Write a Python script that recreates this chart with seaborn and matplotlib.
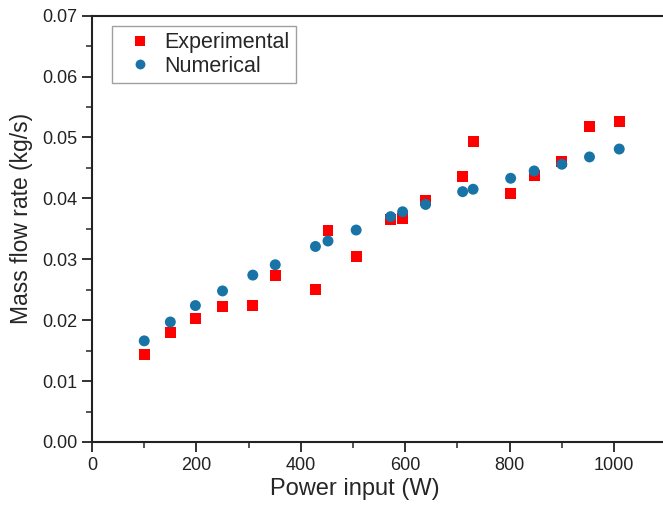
import matplotlib
matplotlib.use("Agg")
import matplotlib.pyplot as plt
import seaborn as sns
import pandas as pd
from matplotlib.ticker import MultipleLocator

power = [100, 150, 198, 250, 308, 351, 428, 452, 506, 572, 595, 639, 710, 730, 802, 847, 900, 953, 1010]
experimental = [0.0144, 0.0179, 0.0202, 0.0222, 0.0224, 0.0273, 0.0251, 0.0348, 0.0305, 0.0366, 0.0367,
                0.0397, 0.0436, 0.0493, 0.0408, 0.0438, 0.0461, 0.0518, 0.0526]
numerical = [0.0166, 0.0197, 0.0224, 0.0248, 0.0274, 0.0291, 0.0321, 0.0330, 0.0348, 0.0370, 0.0378,
             0.0390, 0.0411, 0.0415, 0.0433, 0.0445, 0.0456, 0.0468, 0.0481]
series_names = ["Experimental", "Numerical"]
x_ticks = [0, 200, 400, 600, 800, 1000]
y_ticks = [0.00, 0.01, 0.02, 0.03, 0.04, 0.05, 0.06, 0.07]

df = pd.DataFrame({
    "Power": power * 2,
    "Rate": experimental + numerical,
    "Series": [series_names[0]] * len(power) + [series_names[1]] * len(power),
})

sns.set_style("ticks")
plt.rcParams["font.family"] = ["Liberation Sans", "DejaVu Sans"]

fig = plt.figure(figsize=(6.63, 5.05), dpi=100)
ax = fig.add_axes([0.1388, 0.1248, 0.8700, 0.8442])

sns.scatterplot(data=df, x="Power", y="Rate", hue="Series", style="Series",
                palette={"Experimental": "#FF0000", "Numerical": "#1874A6"},
                markers={"Experimental": "s", "Numerical": "o"},
                s=62, linewidth=0, ax=ax, legend=True, zorder=3)

ax.set_xlim(0, 1105)
ax.set_ylim(0, 0.07)
ax.set_xticks(x_ticks)
ax.set_yticks(y_ticks)
ax.set_yticklabels([f"{v:.2f}" for v in y_ticks])
ax.xaxis.set_minor_locator(MultipleLocator(100))
ax.yaxis.set_minor_locator(MultipleLocator(0.005))
ax.tick_params(which="major", direction="out", length=7, width=1.3, labelsize=13, colors="#222222")
ax.tick_params(which="minor", direction="out", length=4, width=1.1)
ax.tick_params(labelcolor="#222222")

for side in ["left", "bottom", "top", "right"]:
    ax.spines[side].set_visible(True)
    ax.spines[side].set_linewidth(1.5)
    ax.spines[side].set_color("#222222")

ax.set_xlabel("Power input (W)", fontsize=17, labelpad=4)
ax.xaxis.set_label_coords(0.455, -0.085)
ax.set_ylabel("Mass flow rate (kg/s)", fontsize=16.5, labelpad=6)
ax.yaxis.set_label_coords(-0.102, 0.525)

handles, labels = ax.get_legend_handles_labels()
leg = ax.legend(handles, labels, loc="upper left", bbox_to_anchor=(0.035, 0.976),
                borderaxespad=0, fontsize=15.5, frameon=True, fancybox=False,
                edgecolor="#888888", handletextpad=0.1, borderpad=0.3,
                labelspacing=0.12, markerscale=0.9)
leg.get_frame().set_linewidth(1.0)

fig.savefig("out.png", dpi=100)
